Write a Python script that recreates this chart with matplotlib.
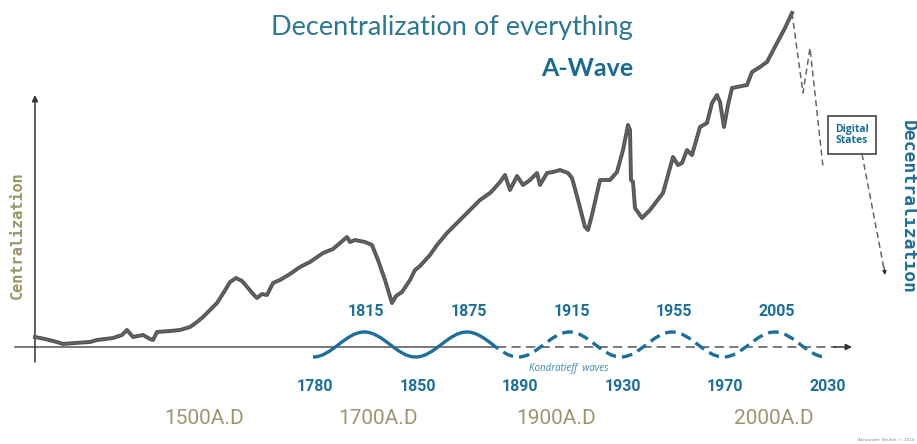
import matplotlib
matplotlib.use("Agg")
import matplotlib.pyplot as plt
from matplotlib.path import Path
from matplotlib.patches import PathPatch, Rectangle

# ---------------- data (schematic units: x position, centralization level) ----
trend_x = [35, 45, 57, 63, 75, 90, 97, 113, 122, 127, 133, 143, 150, 153, 157,
           170, 180, 190, 197, 203, 210, 217, 224, 230, 236, 242, 248, 253, 257,
           262, 267, 273, 280, 290, 300, 310, 323, 333, 340, 347, 350, 355, 365,
           372, 378, 385, 392, 396, 402, 410, 415, 420, 430, 437, 447, 457, 468,
           480, 490, 493, 500, 505, 510, 514, 517, 523, 530, 537, 540, 547, 553,
           560, 568, 572, 578, 585, 588, 592, 600, 610, 617, 623, 628, 630, 631,
           633, 635, 642, 650, 663, 668, 673, 678, 682, 687, 692, 700, 707, 712,
           717, 720, 724, 728, 732, 737, 747, 752, 760, 767, 777, 785, 792]
trend_y = [10, 8, 5, 3, 4, 5, 7, 9, 12, 17, 10, 12, 8, 7, 15,
           16, 17, 20, 25, 30, 37, 44, 55, 65, 69, 66, 59, 53, 49,
           53, 52, 64, 67, 73, 80, 85, 94, 98, 104, 110, 105, 107, 105,
           102, 87, 67, 44, 51, 55, 67, 77, 81, 92, 102, 114, 124, 135,
           147, 154, 157, 165, 172, 157, 165, 171, 162, 167, 174, 162, 174, 175,
           177, 174, 169, 147, 120, 117, 132, 167, 167, 175, 197, 222, 217, 167,
           165, 139, 129, 137, 154, 172, 190, 182, 184, 197, 192, 220, 224, 244,
           252, 245, 220, 242, 259, 260, 262, 275, 280, 285, 304, 319, 334]

forecast_x = [792, 803, 810, 823]
forecast_y = [334, 254, 299, 180]

wave_years = ["1780", "1815", "1850", "1875", "1890", "1915", "1930",
              "1955", "1970", "2005", "2030"]
wave_phase = [-1, 1, -1, 1, -1, 1, -1, 1, -1, 1, -1]   # trough / peak

era_labels = ["1500A.D", "1700A.D", "1900A.D", "2000A.D"]
era_x = [204, 378, 556, 774]

# ---------------- layout ---------------------------------------------------
W, H = 917, 444
fig = plt.figure(figsize=(W / 100, H / 100), dpi=100)
ax = fig.add_axes([0, 0, 1, 1])
ax.set_xlim(0, W)
ax.set_ylim(-97, 347)
ax.axis("off")

BLUE = "#1b6f9a"
OLIVE = "#a39d74"
GREY = "#555555"

# axes arrows
ax.annotate("", xy=(35, 252), xytext=(35, -15),
            arrowprops=dict(arrowstyle="-|>", color="#333333", lw=1.1,
                            mutation_scale=9, shrinkA=0, shrinkB=0))
ax.plot([15, 497], [0, 0], color=GREY, lw=1.1, zorder=1)
ax.plot([497, 836], [0, 0], color=GREY, lw=1.1, ls=(0, (6, 3.5)), zorder=1)
ax.annotate("", xy=(852, 0), xytext=(834, 0),
            arrowprops=dict(arrowstyle="-|>", color="#333333", lw=1.1,
                            mutation_scale=9, shrinkA=0, shrinkB=0))

# main trend
ax.plot(trend_x, trend_y, color="#525252", lw=2.8, solid_joinstyle="round",
        zorder=3)
ax.plot(trend_x, trend_y, color="#7a7a7a", lw=0.8, zorder=3, alpha=0.6)

# forecast dashed
ax.plot(forecast_x, forecast_y, color="#666666", lw=1.1, ls=(0, (4, 2.5)),
        zorder=3)

# Digital States box + arrow
ax.add_patch(Rectangle((828, 193), 48, 38, fill=False, edgecolor="#444444",
                       lw=1.2, zorder=4))
ax.text(852, 212, "Digital\nStates", ha="center", va="center", color=BLUE,
        fontsize=7.5, fontweight="bold", family=["Open Sans", "DejaVu Sans"],
        linespacing=1.0, zorder=5)
ax.plot([862, 884], [193, 78], color="#666666", lw=1.1, ls=(0, (4, 2.5)))
ax.annotate("", xy=(885, 72), xytext=(884, 80),
            arrowprops=dict(arrowstyle="-|>", color="#333333", lw=0.8,
                            mutation_scale=6, shrinkA=0, shrinkB=0))

# Kondratieff waves as bezier curves through extremes
x0, half = 313.0, 51.3
amp_peak, amp_trough = 15, -10
pts = []
for i, ph in enumerate(wave_phase):
    px = x0 + i * half
    py = amp_peak if ph > 0 else amp_trough
    pts.append((px, py))
verts, codes = [pts[0]], [Path.MOVETO]
k = 0.3642 * half
for (xa, ya), (xb, yb) in zip(pts[:-1], pts[1:]):
    verts += [(xa + k, ya), (xb - k, yb), (xb, yb)]
    codes += [Path.CURVE4] * 3
wave_path = Path(verts, codes)
split_x = 497
solid = PathPatch(wave_path, fill=False, edgecolor=BLUE, lw=2.4, zorder=4,
                  capstyle="butt")
ax.add_patch(solid)
solid.set_clip_path(Rectangle((0, -60), split_x, 200, transform=ax.transData))
dashed = PathPatch(wave_path, fill=False, edgecolor=BLUE, lw=2.4, zorder=4,
                   ls=(0, (3.2, 1.8)), capstyle="butt")
ax.add_patch(dashed)
dashed.set_clip_path(Rectangle((split_x, -60), 600, 200, transform=ax.transData))

for (px, py), yr, ph in zip(pts, wave_years, wave_phase):
    ty = 36 if ph > 0 else -39
    ax.text(px + 2, ty, yr, ha="center", va="center", color=BLUE,
            fontsize=11.5, fontweight="bold",
            family=["Roboto", "DejaVu Sans"])

ax.text(569, -21, "Kondratieff  waves", ha="center", va="center",
        color="#3f87aa", fontsize=7, style="italic",
        family=["Open Sans", "DejaVu Sans"])

for lab, ex in zip(era_labels, era_x):
    ax.text(ex, -71, lab, ha="center", va="center", color="#9c9670",
            fontsize=15, family=["Roboto", "DejaVu Sans"], fontweight="normal")

# side labels
ax.text(17, 112, "Centralization", rotation=90, ha="center", va="center",
        color="#9b9466", fontsize=11, fontweight="bold",
        family=["DejaVu Sans Mono"])
ax.text(908, 140, "Decentralization", rotation=-90, ha="center", va="center",
        color="#1f6f99", fontsize=13, fontweight="bold",
        family=["DejaVu Sans Mono"])

# titles
ax.text(452, 320, "Decentralization of everything", ha="center", va="center",
        color="#2a7895", fontsize=19.5, fontweight="normal",
        family=["Lato", "DejaVu Sans"])
ax.text(633, 279, "A-Wave", ha="right", va="center", color="#1a6a92",
        fontsize=18, fontweight="bold", family=["Lato", "DejaVu Sans"])

ax.text(915, -95, "Alexander Shubin \u00a9 2016", ha="right", va="bottom",
        color="#888888", fontsize=3.2)

fig.savefig("out.png", dpi=100)
